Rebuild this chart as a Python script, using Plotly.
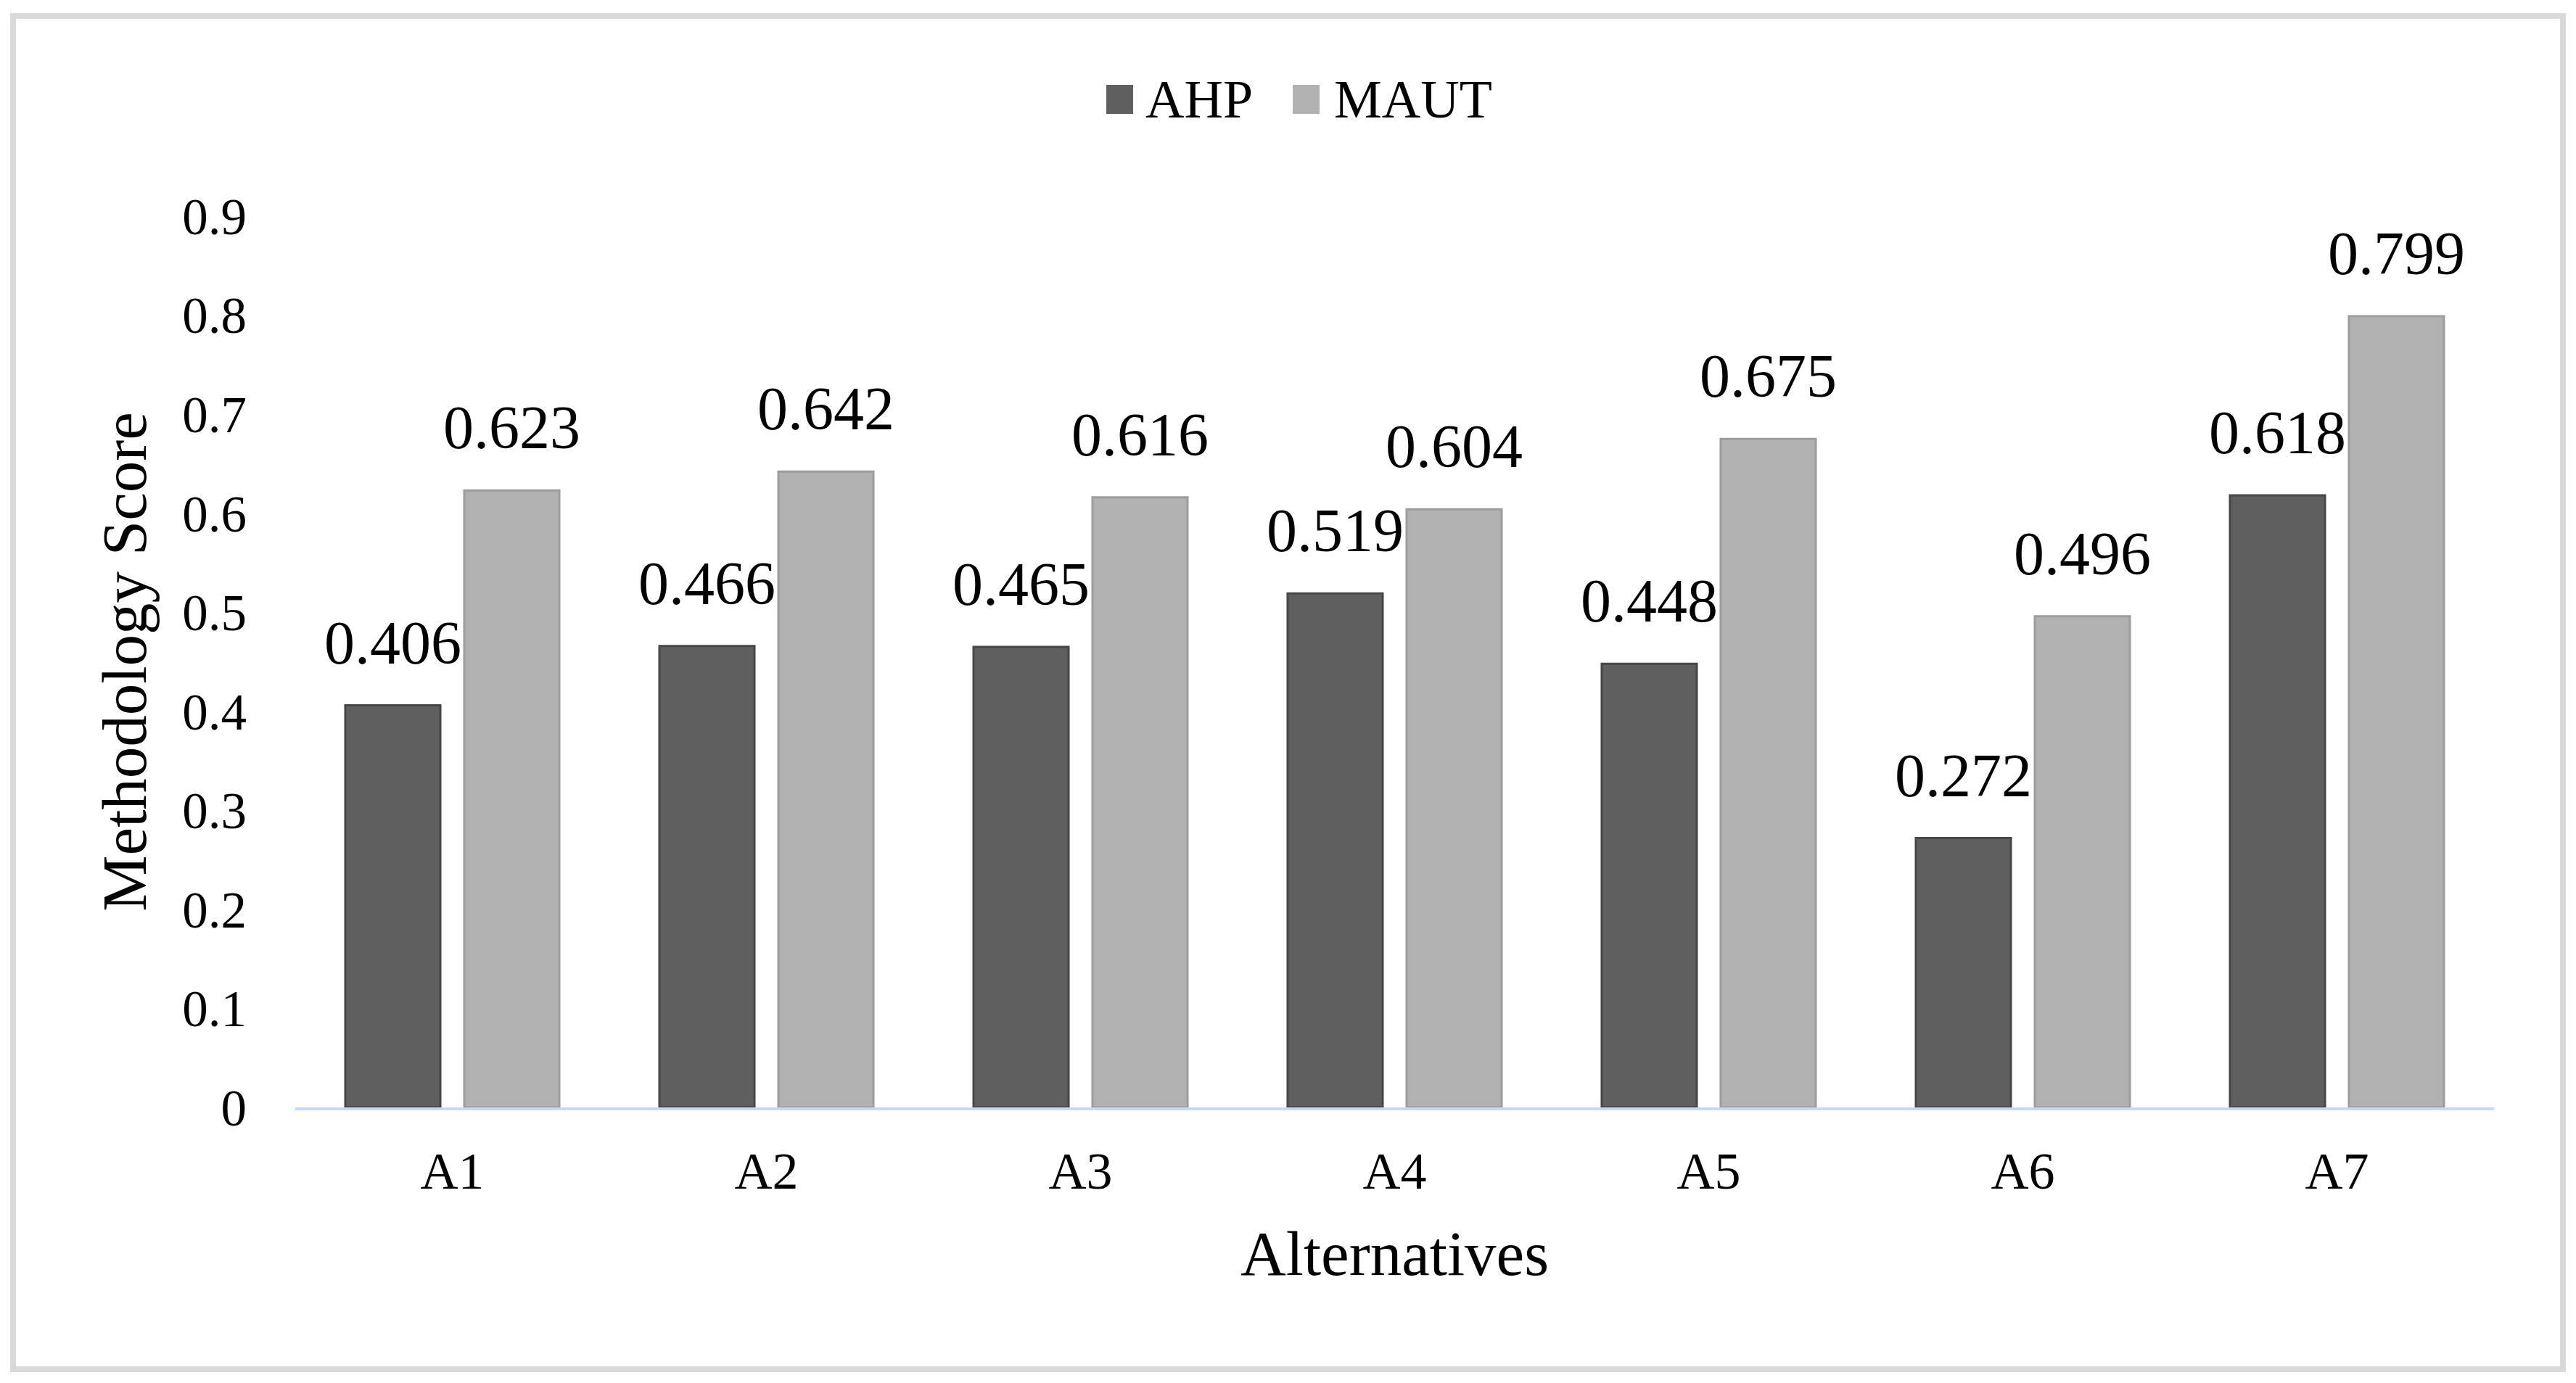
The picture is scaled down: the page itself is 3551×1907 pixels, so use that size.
import plotly.graph_objects as go

# ---- data ----
categories = ["A1", "A2", "A3", "A4", "A5", "A6", "A7"]
ahp = [0.406, 0.466, 0.465, 0.519, 0.448, 0.272, 0.618]
maut = [0.623, 0.642, 0.616, 0.604, 0.675, 0.496, 0.799]
series_names = ["AHP", "MAUT"]
y_ticks = [0, 0.1, 0.2, 0.3, 0.4, 0.5, 0.6, 0.7, 0.8, 0.9]
y_tick_labels = ["0", "0.1", "0.2", "0.3", "0.4", "0.5", "0.6", "0.7", "0.8", "0.9"]

# ---- style ----
FONT = "Liberation Serif, Times New Roman, serif"
C_AHP = "#5f5f5f"
C_MAUT = "#b1b1b1"
W, H = 3551, 1907
L, R, T, B = 407, 113, 298, 380
PW, PH = W - L - R, H - T - B


def px2x(px):
    return (px - L) / PW


def py2y(py):
    return (H - B - py) / PH


fig = go.Figure()
fig.add_trace(go.Bar(x=categories, y=ahp, name=series_names[0],
                     marker=dict(color=C_AHP, line=dict(color="#474747", width=3)),
                     showlegend=False))
fig.add_trace(go.Bar(x=categories, y=maut, name=series_names[1],
                     marker=dict(color=C_MAUT, line=dict(color="#9d9d9d", width=3)),
                     showlegend=False))

# value labels above bars
slot_half = PW / len(categories) * (1 - 0.2425) / 4
annotations = []
for vals, shift in ((ahp, -slot_half), (maut, slot_half)):
    for c, v in zip(categories, vals):
        annotations.append(dict(x=c, y=v, xref="x", yref="y", text=f"{v:.3f}",
                                showarrow=False, xanchor="center", yanchor="bottom",
                                xshift=shift, yshift=38,
                                font=dict(family=FONT, size=84, color="black")))

# manual legend (large square swatches)
shapes = []
legend_items = [(series_names[0], C_AHP, 1525, 1577), (series_names[1], C_MAUT, 1782, 1837)]
for name, col, sx, tx in legend_items:
    shapes.append(dict(type="rect", xref="paper", yref="paper",
                       x0=px2x(sx), x1=px2x(sx + 37), y0=py2y(157), y1=py2y(117),
                       fillcolor=col, line=dict(width=0)))
    annotations.append(dict(x=px2x(tx), y=py2y(137), xref="paper", yref="paper",
                            text=name, showarrow=False, xanchor="left", yanchor="middle",
                            font=dict(family=FONT, size=74, color="black")))

# outer frame
shapes.append(dict(type="rect", xref="paper", yref="paper",
                   x0=px2x(18), x1=px2x(3533), y0=py2y(1888), y1=py2y(22),
                   line=dict(color="#d9d9d9", width=8), fillcolor="rgba(0,0,0,0)"))

fig.update_layout(
    width=W, height=H,
    margin=dict(l=L, r=R, t=T, b=B, autoexpand=False),
    paper_bgcolor="white", plot_bgcolor="white",
    barmode="group", bargap=0.2425, bargroupgap=0.201,
    font=dict(family=FONT, color="black"),
    shapes=shapes, annotations=annotations,
    showlegend=False,
)
fig.update_xaxes(
    showline=True, linecolor="#c8d7f5", linewidth=4,
    showgrid=False, zeroline=False, ticks="",
    tickfont=dict(family=FONT, size=72, color="black"),
    ticklabelstandoff=22,
    title=dict(text="Alternatives", font=dict(family=FONT, size=87, color="black"), standoff=44),
    automargin=False,
)
fig.update_yaxes(
    range=[0, 0.9], tickvals=y_ticks, ticktext=y_tick_labels,
    showline=False, showgrid=False, zeroline=False, ticks="",
    tickfont=dict(family=FONT, size=71, color="black"),
    ticklabelstandoff=66,
    title=dict(text="Methodology Score", font=dict(family=FONT, size=87, color="black"), standoff=20),
    automargin=False,
)
fig.update_traces(cliponaxis=False)

fig.write_html("out.html", config={"displayModeBar": False},
               post_script="document.body.style.margin='0px';document.body.style.overflow='hidden';")
